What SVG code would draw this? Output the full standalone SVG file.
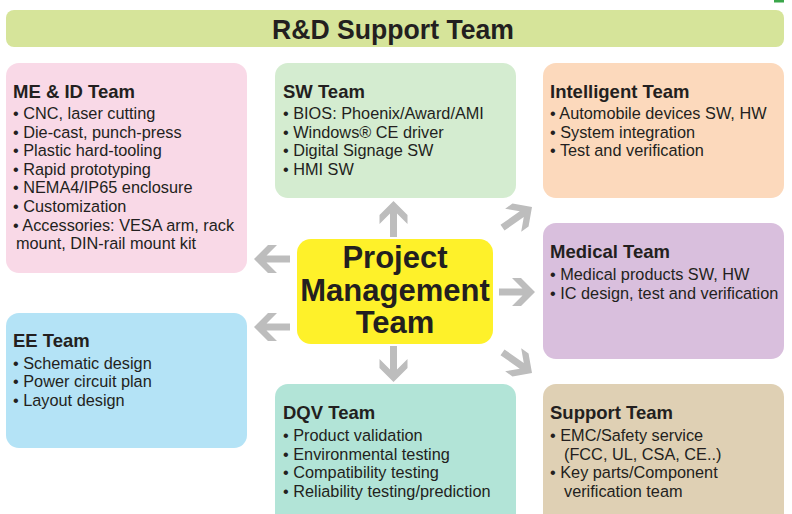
<svg xmlns="http://www.w3.org/2000/svg" width="792" height="514" viewBox="0 0 792 514">
<defs>
<style>
.hd{font-family:"Liberation Sans",Arial,sans-serif;font-weight:bold;font-size:18.5px;fill:#231f20}
.it{font-family:"Liberation Sans",Arial,sans-serif;font-size:16.3px;fill:#231f20}
.pm{font-family:"Liberation Sans",Arial,sans-serif;font-weight:bold;font-size:31px;fill:#231f20;text-anchor:middle}
.title{font-family:"Liberation Sans",Arial,sans-serif;font-weight:bold;font-size:28px;fill:#231f20;text-anchor:middle}
.arr{fill:#bdbdbd}
</style>
<path id="arrowUp" d="M0,0 L14,14 L14,23 L3.5,12.5 L3.5,36 L-3.5,36 L-3.5,12.5 L-14,23 L-14,14 Z"/>
</defs>
<rect x="774" y="0" width="10" height="2.5" fill="#3aa64a"/>
<g id="title">
<rect x="6" y="10" width="778" height="37" rx="8" fill="#d6e49a"/>
<text class="title" x="393" y="38.5" textLength="242" lengthAdjust="spacingAndGlyphs">R&amp;D Support Team</text>
</g>
<g id="me-id">
<rect x="6" y="63" width="241" height="210" rx="13" fill="#f9d9e7"/>
<text class="hd" x="13" y="98">ME &amp; ID Team</text>
<text class="it" x="13" y="119">• CNC, laser cutting</text>
<text class="it" x="13" y="137.6">• Die-cast, punch-press</text>
<text class="it" x="13" y="156.2">• Plastic hard-tooling</text>
<text class="it" x="13" y="174.8">• Rapid prototyping</text>
<text class="it" x="13" y="193.4">• NEMA4/IP65 enclosure</text>
<text class="it" x="13" y="212">• Customization</text>
<text class="it" x="13" y="230.6">• Accessories: VESA arm, rack</text>
<text class="it" x="16" y="249.2">mount, DIN-rail mount kit</text>
</g>
<g id="sw">
<rect x="275" y="63" width="241" height="135" rx="13" fill="#d4ecd0"/>
<text class="hd" x="283" y="98">SW Team</text>
<text class="it" x="283" y="119">• BIOS: Phoenix/Award/AMI</text>
<text class="it" x="283" y="137.6">• Windows® CE driver</text>
<text class="it" x="283" y="156.2">• Digital Signage SW</text>
<text class="it" x="283" y="174.8">• HMI SW</text>
</g>
<g id="intelligent">
<rect x="543" y="63" width="241" height="135" rx="13" fill="#fcd9bc"/>
<text class="hd" x="550" y="98">Intelligent Team</text>
<text class="it" x="550" y="119">• Automobile devices SW, HW</text>
<text class="it" x="550" y="137.6">• System integration</text>
<text class="it" x="550" y="156.2">• Test and verification</text>
</g>
<g id="medical">
<rect x="543" y="223" width="241" height="136" rx="13" fill="#d9bfdd"/>
<text class="hd" x="550" y="258">Medical Team</text>
<text class="it" x="550" y="280">• Medical products SW, HW</text>
<text class="it" x="550" y="298.6">• IC design, test and verification</text>
</g>
<g id="ee">
<rect x="6" y="313" width="241" height="135" rx="13" fill="#b4e3f6"/>
<text class="hd" x="13" y="347">EE Team</text>
<text class="it" x="13" y="368.5">• Schematic design</text>
<text class="it" x="13" y="387.1">• Power circuit plan</text>
<text class="it" x="13" y="405.7">• Layout design</text>
</g>
<g id="dqv">
<rect x="275" y="384" width="241" height="150" rx="13" fill="#b2e4d7"/>
<text class="hd" x="283" y="419">DQV Team</text>
<text class="it" x="283" y="441">• Product validation</text>
<text class="it" x="283" y="459.6">• Environmental testing</text>
<text class="it" x="283" y="478.2">• Compatibility testing</text>
<text class="it" x="283" y="496.8">• Reliability testing/prediction</text>
</g>
<g id="support">
<rect x="543" y="384" width="241" height="150" rx="13" fill="#dfd0b4"/>
<text class="hd" x="550" y="419">Support Team</text>
<text class="it" x="550" y="441">• EMC/Safety service</text>
<text class="it" x="564" y="459.6">(FCC, UL, CSA, CE..)</text>
<text class="it" x="550" y="478.2">• Key parts/Component</text>
<text class="it" x="564" y="496.8">verification team</text>
</g>
<g id="pm">
<rect x="297" y="239" width="196" height="105" rx="14" fill="#fef12a"/>
<text class="pm" x="395" y="268">Project</text>
<text class="pm" x="395" y="301">Management</text>
<text class="pm" x="395" y="333">Team</text>
</g>
<g id="connectors" class="arr">
<use href="#arrowUp" transform="translate(393.5,201)"/>
<use href="#arrowUp" transform="translate(393.5,382) rotate(180)"/>
<use href="#arrowUp" transform="translate(254,259) rotate(-90)"/>
<use href="#arrowUp" transform="translate(254,327) rotate(-90)"/>
<use href="#arrowUp" transform="translate(535,292) rotate(90)"/>
<use href="#arrowUp" transform="translate(532,207) rotate(55)"/>
<use href="#arrowUp" transform="translate(532,373) rotate(125)"/>
</g>
</svg>
